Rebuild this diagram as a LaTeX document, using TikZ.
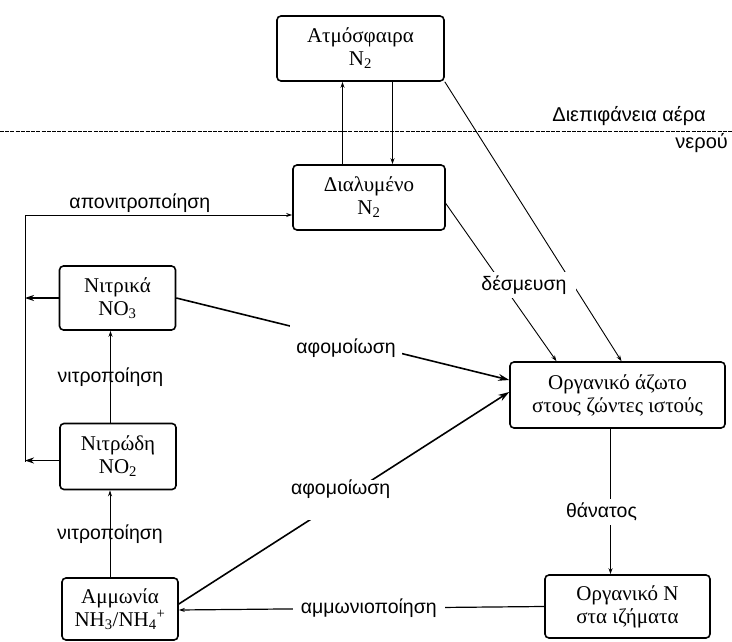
\documentclass[tikz,border=0pt]{standalone}
\usepackage{fontspec}
\setmainfont{Liberation Serif}
\newfontfamily\lblfont{Liberation Sans}
\usetikzlibrary{arrows.meta}
\begin{document}
\begin{tikzpicture}[x=1pt,y=-1pt,
  box/.style={draw, line width=1.6pt, rounded corners=4pt, align=center, inner sep=2pt,
    font=\fontsize{21}{23}\selectfont},
  conn/.style={line width=0.9pt, -{Stealth[length=6pt,width=4pt]}},
  bold/.style={line width=1.6pt, -{Stealth[length=11pt,width=7pt]}},
  lbl/.style={font=\lblfont\fontsize{19.5}{22}\selectfont, inner sep=1pt},
  gap/.style={lbl, fill=white, inner xsep=6pt, inner ysep=4pt},
  iface/.style={font=\lblfont\fontsize{20}{22}\selectfont, inner sep=0pt},
  surface/.style={line width=1pt, dash pattern=on 4pt off 1.2pt}]
\useasboundingbox (0,0) rectangle (732,642);

% boxes
\node[box, minimum width=167pt, minimum height=65pt] (atm) at (360.5,48.5) {Ατμόσφαιρα\\N\textsubscript{2}};
\node[box, minimum width=152pt, minimum height=65pt] (diss) at (369,197.5) {Διαλυμένο\\N\textsubscript{2}};
\node[box, minimum width=116pt, minimum height=64pt] (nitrate) at (117.5,298) {Νιτρικά\\NO\textsubscript{3}};
\node[box, minimum width=116pt, minimum height=66pt] (nitrite) at (118,456.5) {Νιτρώδη\\NO\textsubscript{2}};
\node[box, minimum width=116pt, minimum height=62pt] (amm) at (120,609) {Αμμωνία\\NH\textsubscript{3}/NH\textsubscript{4}\textsuperscript{+}};
\node[box, minimum width=215pt, minimum height=66pt] (org) at (617.5,395) {Οργανικό άζωτο\\στους ζώντες ιστούς};
\node[box, minimum width=165pt, minimum height=63pt] (sed) at (627.5,606.5) {Οργανικό Ν\\στα ιζήματα};

% air-water interface
\coordinate (sl) at (0,131.5);
\coordinate (sr) at (732,131.5);
\draw[surface] (sl) -- (sr);
\node[iface, anchor=east] (if1) at (706,116) {Διεπιφάνεια αέρα};
\node[iface, anchor=east] (if2) at (728,143) {νερού};

% atmosphere <-> dissolved
\draw[conn] ([xshift=-18pt]atm.south |- diss.north) -- ([xshift=-18pt]atm.south);
\draw[conn] ([xshift=32pt]atm.south) -- ([xshift=32pt]atm.south |- diss.north);

% denitrification
\coordinate (dn) at (25,462);
\draw[conn] (dn) |- node[lbl, above=1pt, pos=0.715] (ldn) {απονιτροποίηση} ([yshift=-17.5pt]diss.west);
\draw[conn, line width=1.2pt, -{Stealth[length=9pt,width=6pt]}] (nitrate.west) -- (nitrate.west -| dn);
\draw[conn, line width=1.2pt, -{Stealth[length=9pt,width=6pt]}] ([yshift=-4pt]nitrite.west) -- ([yshift=-4pt]nitrite.west -| dn);

% nitrification
\draw[conn] ([xshift=-10pt]amm.north) -- node[lbl, pos=0.5] (ln1) {νιτροποίηση} ([xshift=-10pt]amm.north |- nitrite.south);
\draw[conn] ([xshift=-7.5pt]nitrite.north) -- node[lbl, pos=0.5] (ln2) {νιτροποίηση} ([xshift=-7.5pt]nitrite.north |- nitrate.south);

% assimilation
\draw[bold] (nitrate.east) -- node[gap, pos=0.51, text height=30pt, text depth=3pt] (la1) {αφομοίωση} ([yshift=15pt]org.west);
\draw[bold] ([yshift=5pt]amm.east) -- node[gap, pos=0.49, text height=10pt, text depth=22pt] (la2) {αφομοίωση} ([yshift=3pt]org.west);

% ammonification
\draw[conn, line width=1.2pt] (sed.west) -- node[gap, pos=0.48, inner xsep=8pt] (lam) {αμμωνιοποίηση} ([yshift=-1pt]amm.east);

% death
\draw[conn] ([xshift=-7pt]org.south) -- node[gap, pos=0.57, xshift=-9pt] (ld) {θάνατος} ([xshift=-7pt]org.south |- sed.north);

% fixation
\draw[conn] (atm.south east) -- ([xshift=4pt]org.north);
\draw[conn] ([yshift=-6pt]diss.east) -- node[gap, pos=0.516, xshift=21pt, inner xsep=10pt] (lf) {δέσμευση} ([xshift=-61pt]org.north);

\end{tikzpicture}
\end{document}
